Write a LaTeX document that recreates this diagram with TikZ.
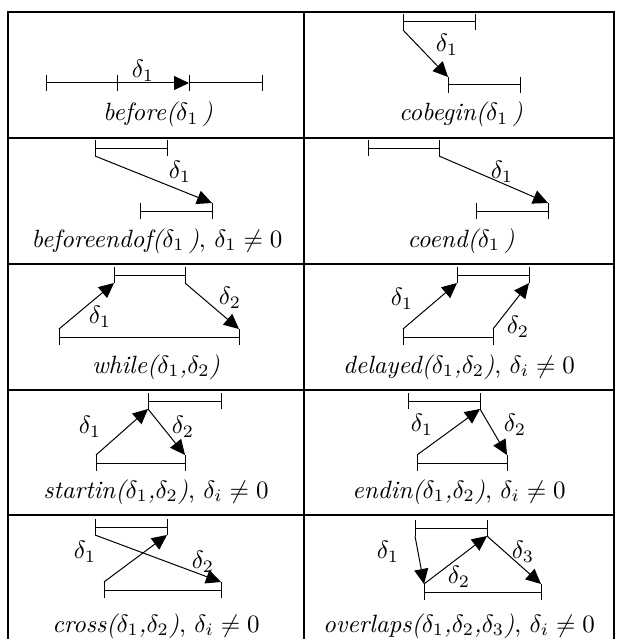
\documentclass[tikz,border=0pt]{standalone}
\usetikzlibrary{arrows.meta}
\newcommand\ivl[4]{%
  \coordinate (#1-l) at (#2,#4);
  \coordinate (#1-r) at (#3,#4);
  \coordinate (#1-lt) at (#2,#4-8);
  \coordinate (#1-lb) at (#2,#4+8);
  \coordinate (#1-rt) at (#3,#4-8);
  \coordinate (#1-rb) at (#3,#4+8);
  \draw[ivline] (#1-l) -- (#1-r);
  \draw[ivline] (#1-lt) -- (#1-lb);
  \draw[ivline] (#1-rt) -- (#1-rb);
}
\begin{document}
\begin{tikzpicture}[x=0.4pt,y=-0.4pt,
  ivline/.style={line width=0.4pt},
  dl/.style={line width=0.4pt,-{Triangle[length=6pt,width=5.6pt]}},
  gridline/.style={line width=0.8pt},
  dlab/.style={inner sep=0pt},
  captxt/.style={anchor=base,inner sep=0pt}]
\useasboundingbox (0,0) rectangle (616,639);
\clip (0,0) rectangle (616,639);
% table
\draw[gridline] (8,660) -- (8,12) -- (614,12) -- (614,660);
\draw[gridline] (304,12) -- (304,660);
\foreach \yy in {138,264,390,515} \draw[gridline] (8,\yy) -- (614,\yy);
% row 1 left: before
\ivl{a1}{46}{117}{83}
\ivl{a2}{189}{262}{83}
\draw[dl] (a1-r) -- (a2-l);
\node[dlab] (la) at (143,71) {$\delta_1$};
\node[captxt] (ca) at (158,121) {\textit{before($\delta_1$\,)}};
% row 1 right: cobegin
\ivl{b1}{403}{475}{22}
\ivl{b2}{448}{520}{85}
\draw[dl] (b1-lb) -- (b2-lt);
\node[dlab] (lb) at (447,45) {$\delta_1$};
\node[captxt] (cb) at (461,121) {\textit{cobegin($\delta_1$\,)}};
% row 2 left: beforeendof
\ivl{c1}{95}{167}{148}
\ivl{c2}{140}{212}{211}
\draw[dl] (c1-lb) -- (c2-rt);
\node[dlab] (lc) at (180,172) {$\delta_1$};
\node[captxt] (cc) at (157,247) {\textit{beforeendof($\delta_1$\,)}, $\delta_1\neq 0$};
% row 2 right: coend
\ivl{d1}{368}{439}{148}
\ivl{d2}{476}{548}{211}
\draw[dl] (d1-rb) -- (d2-rt);
\node[dlab] (ld) at (502,172) {$\delta_1$};
\node[captxt] (cd) at (461,247) {\textit{coend($\delta_1$\,)}};
% row 3 left: while
\ivl{e1}{114}{185}{275}
\ivl{e2}{59}{239}{337}
\draw[dl] (e2-lt) -- (e1-lb);
\draw[dl] (e1-rb) -- (e2-rt);
\node[dlab] (le1) at (100,317) {$\delta_1$};
\node[dlab] (le2) at (230,298) {$\delta_2$};
\node[captxt] (ce) at (156,373) {\textit{while($\delta_1$,$\delta_2$)}};
% row 3 right: delayed
\ivl{f1}{457}{529}{275}
\ivl{f2}{403}{493}{337}
\draw[dl] (f2-lt) -- (f1-lb);
\draw[dl] (f2-rt) -- (f1-rb);
\node[dlab] (lf1) at (402,299) {$\delta_1$};
\node[dlab] (lf2) at (518,327) {$\delta_2$};
\node[captxt] (cf) at (459,373) {\textit{delayed($\delta_1$,$\delta_2$)}, $\delta_i\neq 0$};
% row 4 left: startin
\ivl{g1}{148}{221}{401}
\ivl{g2}{96}{185}{463}
\draw[dl] (g2-lt) -- (g1-lb);
\draw[dl] (g1-lb) -- (g2-rt);
\node[dlab] (lg1) at (90,427) {$\delta_1$};
\node[dlab] (lg2) at (183,427) {$\delta_2$};
\node[captxt] (cg) at (156,498) {\textit{startin($\delta_1$,$\delta_2$)}, $\delta_i\neq 0$};
% row 4 right: endin
\ivl{h1}{408}{480}{401}
\ivl{h2}{417}{507}{463}
\draw[dl] (h2-lt) -- (h1-rb);
\draw[dl] (h1-rb) -- (h2-rt);
\node[dlab] (lh1) at (422,425) {$\delta_1$};
\node[dlab] (lh2) at (515,425) {$\delta_2$};
\node[captxt] (ch) at (459,498) {\textit{endin($\delta_1$,$\delta_2$)}, $\delta_i\neq 0$};
% row 5 left: cross
\ivl{i1}{95}{167}{527}
\ivl{i2}{104}{221}{590}
\draw[dl] (i2-lt) -- (i1-rb);
\draw[dl] (i1-lb) -- (i2-rt);
\node[dlab] (li1) at (85,552) {$\delta_1$};
\node[dlab] (li2) at (203,562) {$\delta_2$};
\node[captxt] (ci) at (156,632) {\textit{cross($\delta_1$,$\delta_2$)}, $\delta_i\neq 0$};
% row 5 right: overlaps
\ivl{j1}{415}{487}{528}
\ivl{j2}{424}{541}{592}
\draw[dl] (j1-lb) -- (j2-lt);
\draw[dl] (j2-lt) -- (j1-rb);
\draw[dl] (j1-rb) -- (j2-rt);
\node[dlab] (lj1) at (388,552) {$\delta_1$};
\node[dlab] (lj2) at (459,577) {$\delta_2$};
\node[dlab] (lj3) at (523,552) {$\delta_3$};
\node[captxt] (cj) at (459,632) {\textit{overlaps($\delta_1$,$\delta_2$,$\delta_3$)}, $\delta_i\neq 0$};
\end{tikzpicture}
\end{document}
